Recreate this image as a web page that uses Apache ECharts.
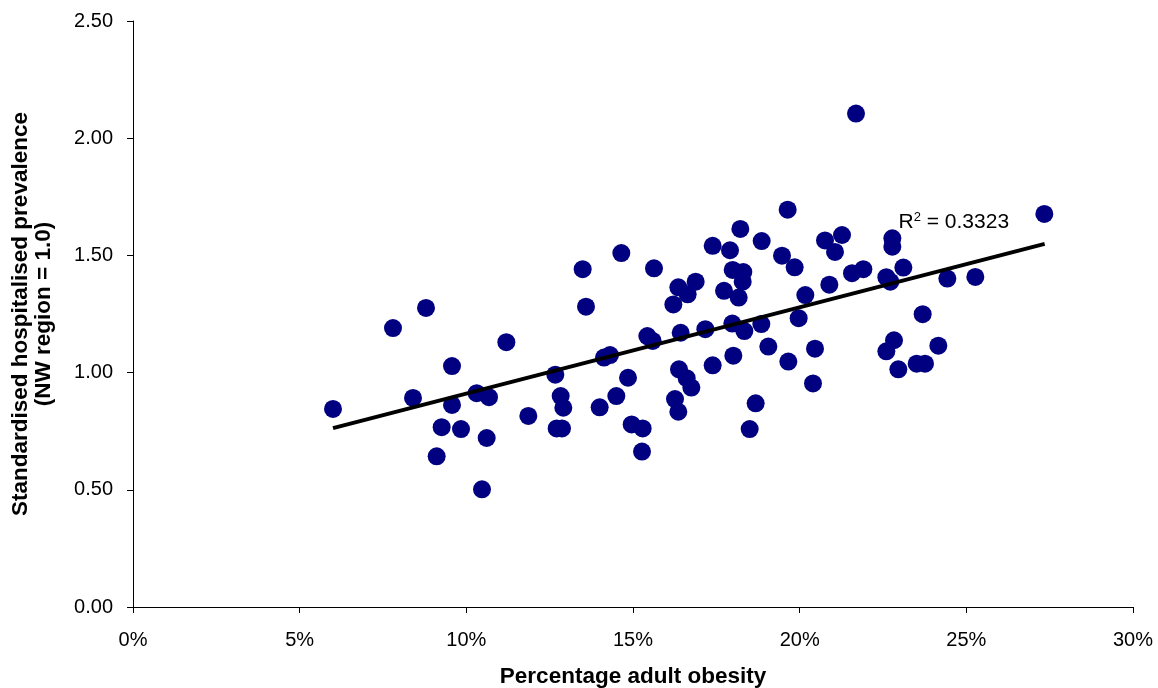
<!DOCTYPE html>
<html>
<head>
<meta charset="utf-8">
<script src="https://cdn.jsdelivr.net/npm/echarts@6/dist/echarts.min.js"></script>
<style>html,body{margin:0;padding:0;background:#fff;}#c{width:1158px;height:688px;}</style>
</head>
<body>
<div id="c"></div>
<script>
// Percentage adult obesity (%)
var obesityPct = [
  6.0, 7.8, 8.79, 9.57, 8.4, 11.2, 9.57, 10.31, 10.68, 9.26, 9.84, 10.61, 9.11, 10.47, 11.86, 12.67, 12.83, 12.91, 12.71, 12.87, 13.59, 14.0,
  13.49, 14.65, 15.63, 16.36, 16.88, 16.64, 16.21, 17.39, 17.91, 18.22, 18.86, 19.64, 19.47, 19.85, 20.76, 21.27, 21.06, 21.57, 21.91, 20.89, 20.17, 19.97,
  17.99, 18.31, 18.29, 17.73, 18.17, 17.98, 18.34, 18.85, 17.17, 16.43, 15.43, 15.59, 14.13, 14.31, 14.85, 14.5, 14.96, 15.29, 15.27,
  16.38, 16.61, 16.75, 16.26, 16.36, 17.39, 18.01, 19.06, 19.66, 20.46, 20.4, 18.68, 18.5,
  21.69, 27.34, 22.78, 22.78, 23.11, 22.6, 22.72, 24.43, 25.27, 23.69, 22.83, 22.6, 24.16, 22.96, 23.51, 23.76
];
// Standardised hospitalised prevalence (NW region = 1.0)
var prevalence = [
  0.845, 1.19, 1.276, 1.028, 0.892, 1.13, 0.862, 0.912, 0.895, 0.767, 0.759, 0.721, 0.643, 0.502, 0.815, 0.991, 0.900, 0.850, 0.762, 0.762, 1.281, 0.852,
  1.441, 1.51, 1.445, 1.364, 1.388, 1.334, 1.291, 1.541, 1.522, 1.613, 1.561, 1.695, 1.499, 1.449, 1.564, 1.587, 1.515, 1.424, 1.441, 1.375, 1.331, 1.232,
  1.438, 1.429, 1.388, 1.349, 1.320, 1.209, 1.177, 1.207, 1.185, 1.170, 1.156, 1.135, 1.064, 1.075, 0.978, 0.90, 0.779, 0.762, 0.663,
  1.014, 0.976, 0.936, 0.887, 0.833, 1.031, 1.072, 1.111, 1.047, 1.102, 0.954, 0.869, 0.759,
  2.105, 1.677, 1.573, 1.537, 1.448, 1.407, 1.388, 1.401, 1.408, 1.249, 1.138, 1.091, 1.115, 1.014, 1.038, 1.038
];
// Linear trend line end points
var trendX = [6.0, 27.35];
var trendY = [0.763, 1.549];
var rSquared = '0.3323';
var labelAnchor = [22.95, 1.64];

var points = obesityPct.map(function (x, i) { return [x, prevalence[i]]; });
var trend = trendX.map(function (x, i) { return [x, trendY[i]]; });

var FONT = '"Liberation Sans", Arial, sans-serif';
var chart = echarts.init(document.getElementById('c'), null, {renderer: 'canvas'});
chart.setOption({
  animation: false,
  backgroundColor: '#ffffff',
  grid: {left: 133, right: 25, top: 21, bottom: 81, containLabel: false, outerBoundsMode: 'none'},
  xAxis: {
    type: 'value', min: 0, max: 30, interval: 5,
    name: 'Percentage adult obesity', nameLocation: 'middle', nameGap: 58,
    nameTextStyle: {fontFamily: FONT, fontSize: 22.5, fontWeight: 'bold', color: '#000'},
    axisLine: {show: true, lineStyle: {color: '#000', width: 1}},
    axisTick: {show: true, inside: false, length: 6, lineStyle: {color: '#000'}},
    axisLabel: {fontFamily: FONT, fontSize: 20, color: '#000', margin: 23, formatter: '{value}%'},
    splitLine: {show: false}
  },
  yAxis: {
    type: 'value', min: 0, max: 2.5, interval: 0.5,
    name: 'Standardised hospitalised prevalence\n(NW region = 1.0)', nameLocation: 'middle', nameGap: 78,
    nameTextStyle: {fontFamily: FONT, fontSize: 22.5, fontWeight: 'bold', color: '#000', lineHeight: 23},
    axisLine: {show: true, lineStyle: {color: '#000', width: 1}},
    axisTick: {show: true, inside: false, length: 6, lineStyle: {color: '#000'}},
    axisLabel: {fontFamily: FONT, fontSize: 20, color: '#000', margin: 20, formatter: function (v) { return v.toFixed(2); }},
    splitLine: {show: false}
  },
  series: [
    {
      type: 'scatter', data: points, symbol: 'circle', symbolSize: 18,
      itemStyle: {color: '#000080', opacity: 1}, z: 2
    },
    {
      type: 'line', data: trend, symbol: 'none', z: 3,
      lineStyle: {color: '#000', width: 4},
      markPoint: {
        symbol: 'circle', symbolSize: 1, itemStyle: {color: 'rgba(0,0,0,0)'},
        data: [{coord: labelAnchor}],
        label: {
          show: true, position: 'right', distance: 0,
          formatter: '{r|R}{s|2}{r| = ' + rSquared + '}',
          rich: {
            r: {fontFamily: FONT, fontSize: 21, color: '#000', lineHeight: 24},
            s: {fontFamily: FONT, fontSize: 13, color: '#000', lineHeight: 24, verticalAlign: 'top', padding: [0, 0, 10, 0]}
          }
        }
      }
    }
  ]
});
</script>
</body>
</html>
